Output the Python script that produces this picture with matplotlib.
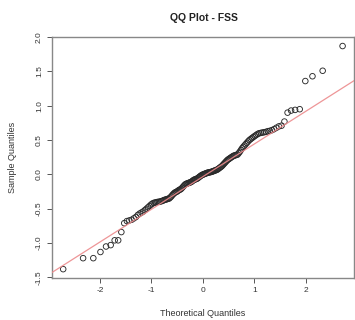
import numpy as np
import matplotlib
matplotlib.use("Agg")
import matplotlib.pyplot as plt
from statistics import NormalDist

plt.rcParams['font.family'] = ['Liberation Sans', 'DejaVu Sans']

title = "QQ Plot - FSS"
xlabel = "Theoretical Quantiles"
ylabel = "Sample Quantiles"

# Sorted sample values (FSS residuals)
sample = [
    -1.38, -1.22, -1.22, -1.13, -1.05, -1.03, -0.96, -0.96, -0.84, -0.71,
    -0.68, -0.67, -0.66, -0.64, -0.62, -0.59, -0.57, -0.555, -0.54, -0.52,
    -0.50, -0.48, -0.46, -0.44, -0.425, -0.415, -0.41, -0.405, -0.40, -0.40,
    -0.395, -0.39, -0.385, -0.375, -0.37, -0.365, -0.36, -0.355, -0.35, -0.335,
    -0.32, -0.30, -0.285, -0.27, -0.26, -0.255, -0.245, -0.235, -0.225, -0.22,
    -0.21, -0.195, -0.18, -0.165, -0.15, -0.14, -0.135, -0.13, -0.125, -0.12,
    -0.115, -0.11, -0.10, -0.09, -0.08, -0.075, -0.07, -0.065, -0.06, -0.05,
    -0.04, -0.03, -0.02, -0.012, -0.005, 0.0, 0.005, 0.01, 0.015, 0.02,
    0.025, 0.028, 0.03, 0.033, 0.036, 0.04, 0.045, 0.05, 0.055, 0.06,
    0.065, 0.07, 0.08, 0.09, 0.10, 0.11, 0.12, 0.135, 0.15, 0.165,
    0.18, 0.195, 0.21, 0.22, 0.23, 0.24, 0.25, 0.26, 0.27, 0.275,
    0.28, 0.285, 0.29, 0.31, 0.33, 0.355, 0.38, 0.40, 0.42, 0.44,
    0.46, 0.48, 0.50, 0.515, 0.53, 0.545, 0.56, 0.575, 0.59, 0.60,
    0.605, 0.61, 0.615, 0.62, 0.63, 0.635, 0.645, 0.66, 0.68, 0.70,
    0.71, 0.77, 0.90, 0.93, 0.94, 0.95, 1.36, 1.43, 1.51, 1.87,
]
xticks = [-2, -1, 0, 1, 2]
yticks = [-1.5, -1.0, -0.5, 0.0, 0.5, 1.0, 1.5, 2.0]
ytick_labels = ["-1.5", "-1.0", "-0.5", "0.0", "0.5", "1.0", "1.5", "2.0"]

y = np.sort(np.array(sample))
n = len(y)
nd = NormalDist()
theo = np.array([nd.inv_cdf((i - 0.5) / n) for i in range(1, n + 1)])

# qqline through quartiles (as R does)
q1, q3 = np.quantile(y, [0.25, 0.75])
t1, t3 = nd.inv_cdf(0.25), nd.inv_cdf(0.75)
slope = (q3 - q1) / (t3 - t1)
intercept = q1 - slope * t1

fig = plt.figure(figsize=(3.55, 3.2), dpi=100)
ax = fig.add_axes([0.1465, 0.131, 0.85, 0.753])

ax.scatter(theo, y, s=16, facecolors='none', edgecolors='#2a2a2a', linewidths=0.65, zorder=3)

xr = theo.max() - theo.min()
yr = y.max() - y.min()
xlim = (theo.min() - 0.04 * xr, theo.max() + 0.04 * xr)
ylim = (y.min() - 0.04 * yr, y.max() + 0.04 * yr)
ax.set_xlim(xlim)
ax.set_ylim(ylim)
xx = np.array(xlim)
ax.plot(xx, intercept + slope * xx, color='#ec8a8c', lw=0.9, zorder=4, alpha=0.9)

ax.set_xticks(xticks)
ax.set_xticklabels([str(t) for t in xticks])
ax.set_yticks(yticks)
ax.set_yticklabels(ytick_labels, rotation=90, va='center')
ax.tick_params(direction='out', length=3.5, width=0.7, colors='#555555', labelsize=6, labelcolor='#333333', pad=3)
for s in ax.spines.values():
    s.set_color('#888888')
    s.set_linewidth(1.0)

ax.set_xlabel(xlabel, fontsize=6.5, color='#333333', labelpad=11)
ax.set_ylabel(ylabel, fontsize=6.5, color='#333333', labelpad=14)
fig.text(0.575, 0.945, title, ha='center', va='center', fontsize=7.5, fontweight='bold', color='#222222')

fig.savefig("out.png", dpi=100)
